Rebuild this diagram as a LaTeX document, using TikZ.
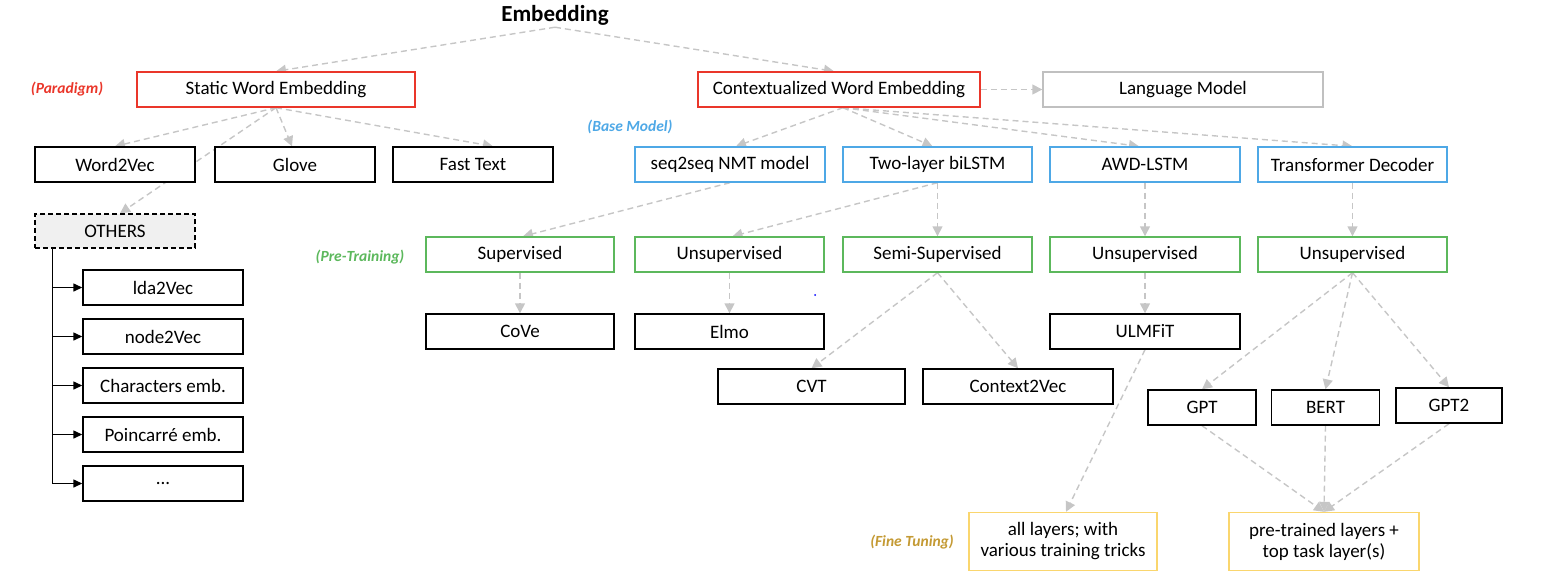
\documentclass[tikz,border=0pt]{standalone}
\usepackage{fontspec}
\setmainfont{Carlito}
\usetikzlibrary{arrows.meta,calc}
\pgfdeclarelayer{bg}
\pgfsetlayers{bg,main}
\definecolor{cred}{RGB}{234,54,42}
\definecolor{cblue}{RGB}{78,168,230}
\definecolor{cgreen}{RGB}{92,184,92}
\definecolor{cyellow}{RGB}{250,214,110}
\definecolor{cgold}{RGB}{196,154,52}
\definecolor{cgray}{RGB}{192,192,192}
\definecolor{agray}{RGB}{198,198,198}
\definecolor{ofill}{RGB}{240,240,240}
\begin{document}
\begin{tikzpicture}[x=1pt,y=-1pt,
  bx/.style={draw=black, line width=1.4pt, fill=white, minimum height=35pt, inner sep=0pt, font=\fontsize{19}{23}\selectfont, align=center},
  redbx/.style={bx, draw=cred},
  bluebx/.style={bx, draw=cblue},
  greenbx/.style={bx, draw=cgreen},
  yellowbx/.style={bx, draw=cyellow, minimum height=58pt},
  graybx/.style={bx, draw=cgray},
  otherbx/.style={bx, fill=ofill, dash pattern=on 5pt off 3pt, minimum height=34pt},
  lab/.style={inner sep=0pt, font=\fontsize{15.5}{18}\selectfont\bfseries\itshape},
  ar/.style={draw=agray, line width=1.4pt, dash pattern=on 6pt off 4pt, -{Triangle[length=10pt,width=10pt]}},
  tr/.style={draw=black, line width=1.4pt, -{Triangle[length=9pt,width=8pt]}}
]
\useasboundingbox (0,0) rectangle (1566,582);

\node[inner sep=2pt, font=\fontsize{23}{27}\selectfont\bfseries] (emb) at (555,15) {Embedding};

\node[redbx, minimum width=278pt] (static) at (276,89.5) {Static Word Embedding};
\node[redbx, minimum width=282pt] (ctx) at (839,89.5) {Contextualized Word Embedding};
\node[graybx, minimum width=280pt] (lm) at (1183,89.5) {Language Model};

\node[lab, text=cred] (lpar) at (67,89) {(Paradigm)};
\node[lab, text=cblue] (lbase) at (630,127) {(Base Model)};
\node[lab, text=cgreen] (lpre) at (360,257) {(Pre-Training)};
\node[lab, text=cgold] (lfine) at (912,542) {(Fine Tuning)};

\node[bx, minimum width=160pt] (w2v) at (115,164.5) {Word2Vec};
\node[bx, minimum width=160pt] (glove) at (295,164.5) {Glove};
\node[bx, minimum width=160pt] (fast) at (473,164.5) {Fast Text};

\node[bluebx, minimum width=190pt] (s2s) at (730,164.5) {seq2seq NMT model};
\node[bluebx, minimum width=189pt] (bilstm) at (937.5,164.5) {Two-layer biLSTM};
\node[bluebx, minimum width=190pt] (awd) at (1145,164.5) {AWD-LSTM};
\node[bluebx, minimum width=189pt] (trans) at (1352.5,164.5) {Transformer Decoder};

\node[otherbx, minimum width=160pt] (others) at (115,231) {OTHERS};
\node[bx, minimum width=160pt] (lda) at (163,287.5) {lda2Vec};
\node[bx, minimum width=160pt] (n2v) at (163,336.5) {node2Vec};
\node[bx, minimum width=160pt] (chars) at (163,385.5) {Characters emb.};
\node[bx, minimum width=160pt] (poinc) at (163,434.5) {Poincarré emb.};
\node[bx, minimum width=160pt] (dots) at (163,483.5) {...};

\node[greenbx, minimum width=188pt] (sup) at (520,254.5) {Supervised};
\node[greenbx, minimum width=189pt] (unsa) at (729.5,254.5) {Unsupervised};
\node[greenbx, minimum width=189pt] (semi) at (937.5,254.5) {Semi-Supervised};
\node[greenbx, minimum width=190pt] (unsb) at (1145,254.5) {Unsupervised};
\node[greenbx, minimum width=189pt] (unsc) at (1352.5,254.5) {Unsupervised};

\node[bx, minimum width=188pt] (cove) at (520,331.5) {CoVe};
\node[bx, minimum width=189pt] (elmo) at (729.5,331.5) {Elmo};
\node[bx, minimum width=190pt] (ulm) at (1145,331.5) {ULMFiT};
\node[bx, minimum width=187pt] (cvt) at (811.5,386.5) {CVT};
\node[bx, minimum width=190pt] (c2v) at (1018,386.5) {Context2Vec};
\node[bx, minimum width=108pt] (gpt) at (1202,407.5) {GPT};
\node[bx, minimum width=108pt] (bert) at (1325.5,407.5) {BERT};
\node[bx, minimum width=106pt] (gpt2) at (1449,405.5) {GPT2};

\node[yellowbx, minimum width=188pt] (all) at (1063,541.5) {all layers; with\\[-2pt]various training tricks};
\node[yellowbx, minimum width=190pt] (pre) at (1324,541.5) {pre-trained layers +\\[-2pt]top task layer(s)};

\fill[blue] (815,295) circle (1);

\begin{pgfonlayer}{bg}
\draw[ar] (emb.south) -- (static.north);
\draw[ar] (emb.south) -- ($(ctx.north)+(-5,0)$);
\draw[ar] (ctx.east) -- (lm.west);
\draw[ar] (static.south) -- (w2v.north);
\draw[ar] (static.south) -- ($(glove.north)+(-3,0)$);
\draw[ar] (static.south) -- ($(fast.north)+(20,0)$);
\draw[ar] (static.south) -- ($(others.north)+(5,0)$);
\draw[ar] ($(ctx.south)+(4,0)$) -- ($(s2s.north)+(6,0)$);
\draw[ar] ($(ctx.south)+(4,0)$) -- ($(bilstm.north)+(-5,0)$);
\draw[ar] ($(ctx.south)+(4,0)$) -- ($(awd.north)+(-6,0)$);
\draw[ar] ($(ctx.south)+(4,0)$) -- (trans.north);
\draw[ar] (s2s.south) -- ($(sup.north)+(3,0)$);
\draw[ar] (bilstm.south) -- ($(unsa.north)+(3,0)$);
\draw[ar] (bilstm.south) -- (semi.north);
\draw[ar] (awd.south) -- (unsb.north);
\draw[ar] (trans.south) -- (unsc.north);
\draw[ar] (sup.south) -- (cove.north);
\draw[ar] (unsa.south) -- (elmo.north);
\draw[ar] (unsb.south) -- (ulm.north);
\draw[ar] (semi.south) -- (cvt.north);
\draw[ar] (semi.south) -- (c2v.north);
\draw[ar] (unsc.south) -- (gpt.north);
\draw[ar] (unsc.south) -- (bert.north);
\draw[ar] (unsc.south) -- (gpt2.north);
\draw[ar] (ulm.south) -- ($(all.north)+(3,0)$);
\draw[ar] (gpt.south) -- (pre.north);
\draw[ar] (bert.south) -- (pre.north);
\draw[ar] (gpt2.south) -- (pre.north);
\end{pgfonlayer}

\coordinate (trunk) at ($(others.south west)+(18,0)$);
\draw[tr] (trunk) |- (lda.west);
\draw[tr] (trunk) |- (n2v.west);
\draw[tr] (trunk) |- (chars.west);
\draw[tr] (trunk) |- (poinc.west);
\draw[tr] (trunk) |- (dots.west);
\end{tikzpicture}
\end{document}
